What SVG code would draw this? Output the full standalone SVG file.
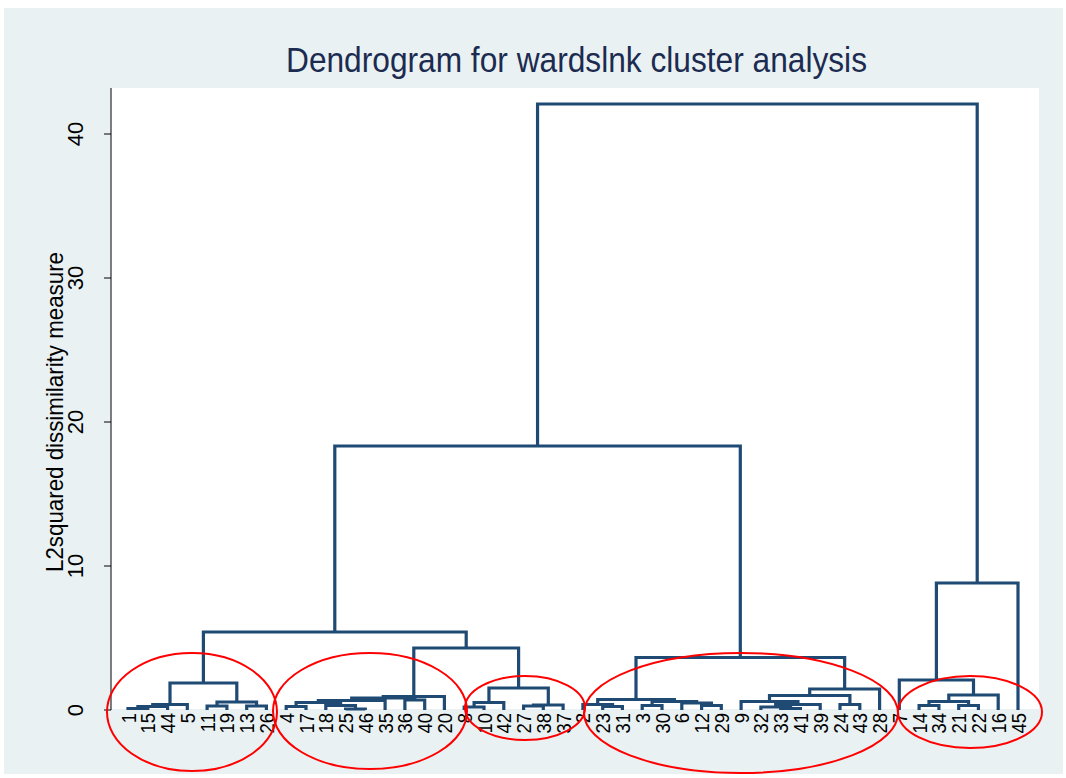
<svg xmlns="http://www.w3.org/2000/svg" width="1066" height="778" viewBox="0 0 1066 778">
<style>
.link{fill:none;stroke:#1f4a73;stroke-width:3.2;stroke-linejoin:miter}
.lbl{font-family:"Liberation Sans",Arial,sans-serif;font-size:21px;fill:#000;text-anchor:end}
.tick{font-family:"Liberation Sans",Arial,sans-serif;font-size:22px;fill:#000;text-anchor:middle}
.ring{fill:none;stroke:#ff0000;stroke-width:2}
</style>
<rect x="0" y="0" width="1066" height="778" fill="#ffffff"/>
<rect x="4" y="8" width="1059" height="766" fill="#e9f1f3"/>
<rect x="111" y="88" width="928" height="621" fill="#ffffff"/>
<text x="286" y="72" textLength="581" lengthAdjust="spacingAndGlyphs" style="font-family:'Liberation Sans',Arial,sans-serif;font-size:35px;fill:#1c2b50">Dendrogram for wardslnk cluster analysis</text>
<g id="y-axis">
<line x1="111" y1="88" x2="111" y2="710" stroke="#000" stroke-width="1"/>
<g stroke="#000" stroke-width="1">
<line x1="104" y1="710" x2="111" y2="710"/>
<line x1="104" y1="566" x2="111" y2="566"/>
<line x1="104" y1="422" x2="111" y2="422"/>
<line x1="104" y1="278" x2="111" y2="278"/>
<line x1="104" y1="134" x2="111" y2="134"/>
</g>
<text class="tick" transform="translate(83,710) rotate(-90)">0</text>
<text class="tick" transform="translate(83,566) rotate(-90)">10</text>
<text class="tick" transform="translate(83,422) rotate(-90)">20</text>
<text class="tick" transform="translate(83,278) rotate(-90)">30</text>
<text class="tick" transform="translate(83,134) rotate(-90)">40</text>
<text transform="translate(63,412) rotate(-90)" text-anchor="middle" textLength="320" lengthAdjust="spacingAndGlyphs" style="font-family:'Liberation Sans',Arial,sans-serif;font-size:24px;fill:#000">L2squared dissimilarity measure</text>
</g>
<g id="connectors">
<path class="link" d="M128,710 V708.5 H147.8 V710"/>
<path class="link" d="M137.9,708.5 V706.5 H167.6 V710"/>
<path class="link" d="M152.75,706.5 V704.5 H187.3 V710"/>
<path class="link" d="M207.1,710 V706 H226.9 V710"/>
<path class="link" d="M246.7,710 V706 H266.4 V710"/>
<path class="link" d="M217,706 V702 H256.55 V706"/>
<path class="link" d="M170,704.5 V683 H236.8 V702"/>
<path class="link" d="M345.6,710 V709 H365.3 V710"/>
<path class="link" d="M325.8,710 V705.5 H355.45 V709"/>
<path class="link" d="M286.2,710 V706.5 H306 V710"/>
<path class="link" d="M296.1,706.5 V702.5 H340.6 V705.5"/>
<path class="link" d="M318.35,702.5 V700.5 H385.1 V710"/>
<path class="link" d="M404.9,710 V700 H424.7 V710"/>
<path class="link" d="M351.7,700.5 V698 H414.8 V700"/>
<path class="link" d="M383.25,698 V696.5 H444.4 V710"/>
<path class="link" d="M464.2,710 V707 H484 V710"/>
<path class="link" d="M474.1,707 V702.5 H503.8 V710"/>
<path class="link" d="M523.6,710 V706 H543.3 V710"/>
<path class="link" d="M533.45,706 V705 H563.1 V710"/>
<path class="link" d="M488.95,702.5 V688 H548.3 V705"/>
<path class="link" d="M413.8,696.5 V648 H518.6 V688"/>
<path class="link" d="M203.4,683 V632 H466.2 V648"/>
<path class="link" d="M602.7,710 V706.5 H622.4 V710"/>
<path class="link" d="M582.9,710 V704.5 H612.55 V706.5"/>
<path class="link" d="M642.2,710 V705.5 H662 V710"/>
<path class="link" d="M701.6,710 V705.5 H721.3 V710"/>
<path class="link" d="M681.8,710 V703 H711.45 V705.5"/>
<path class="link" d="M652.1,705.5 V701.5 H696.6 V703"/>
<path class="link" d="M597.7,704.5 V699.5 H674.35 V701.5"/>
<path class="link" d="M780.7,710 V708.5 H800.4 V710"/>
<path class="link" d="M760.9,710 V707 H790.55 V708.5"/>
<path class="link" d="M775.7,707 V704.5 H820.2 V710"/>
<path class="link" d="M741.1,710 V701.5 H797.95 V704.5"/>
<path class="link" d="M840,710 V704.5 H859.8 V710"/>
<path class="link" d="M769.5,701.5 V695.5 H849.9 V704.5"/>
<path class="link" d="M809.7,695.5 V689 H879.6 V710"/>
<path class="link" d="M636,699.5 V657.5 H844.65 V689"/>
<path class="link" d="M334.8,632 V446 H740.3 V657.5"/>
<path class="link" d="M919.1,710 V705.5 H938.9 V710"/>
<path class="link" d="M958.7,710 V705.5 H978.4 V710"/>
<path class="link" d="M929,705.5 V701.5 H968.55 V705.5"/>
<path class="link" d="M948.8,701.5 V695 H998.2 V710"/>
<path class="link" d="M899.3,710 V680 H973.5 V695"/>
<path class="link" d="M936.4,680 V583 H1018 V710"/>
<path class="link" d="M537.55,446 V104 H977.2 V583"/>
</g>
<g id="leaf-1"><text class="lbl" transform="translate(135.5,713) rotate(-90) scale(0.88,1)">1</text></g>
<g id="leaf-15"><text class="lbl" transform="translate(155.3,713) rotate(-90) scale(0.88,1)">15</text></g>
<g id="leaf-44"><text class="lbl" transform="translate(175.1,713) rotate(-90) scale(0.88,1)">44</text></g>
<g id="leaf-5"><text class="lbl" transform="translate(194.8,713) rotate(-90) scale(0.88,1)">5</text></g>
<g id="leaf-11"><text class="lbl" transform="translate(214.6,713) rotate(-90) scale(0.88,1)">11</text></g>
<g id="leaf-19"><text class="lbl" transform="translate(234.4,713) rotate(-90) scale(0.88,1)">19</text></g>
<g id="leaf-13"><text class="lbl" transform="translate(254.2,713) rotate(-90) scale(0.88,1)">13</text></g>
<g id="leaf-26"><text class="lbl" transform="translate(273.9,713) rotate(-90) scale(0.88,1)">26</text></g>
<g id="leaf-4"><text class="lbl" transform="translate(293.7,713) rotate(-90) scale(0.88,1)">4</text></g>
<g id="leaf-17"><text class="lbl" transform="translate(313.5,713) rotate(-90) scale(0.88,1)">17</text></g>
<g id="leaf-18"><text class="lbl" transform="translate(333.3,713) rotate(-90) scale(0.88,1)">18</text></g>
<g id="leaf-25"><text class="lbl" transform="translate(353.1,713) rotate(-90) scale(0.88,1)">25</text></g>
<g id="leaf-46"><text class="lbl" transform="translate(372.8,713) rotate(-90) scale(0.88,1)">46</text></g>
<g id="leaf-35"><text class="lbl" transform="translate(392.6,713) rotate(-90) scale(0.88,1)">35</text></g>
<g id="leaf-36"><text class="lbl" transform="translate(412.4,713) rotate(-90) scale(0.88,1)">36</text></g>
<g id="leaf-40"><text class="lbl" transform="translate(432.2,713) rotate(-90) scale(0.88,1)">40</text></g>
<g id="leaf-20"><text class="lbl" transform="translate(451.9,713) rotate(-90) scale(0.88,1)">20</text></g>
<g id="leaf-8"><text class="lbl" transform="translate(471.7,713) rotate(-90) scale(0.88,1)">8</text></g>
<g id="leaf-10"><text class="lbl" transform="translate(491.5,713) rotate(-90) scale(0.88,1)">10</text></g>
<g id="leaf-42"><text class="lbl" transform="translate(511.3,713) rotate(-90) scale(0.88,1)">42</text></g>
<g id="leaf-27"><text class="lbl" transform="translate(531.1,713) rotate(-90) scale(0.88,1)">27</text></g>
<g id="leaf-38"><text class="lbl" transform="translate(550.8,713) rotate(-90) scale(0.88,1)">38</text></g>
<g id="leaf-37"><text class="lbl" transform="translate(570.6,713) rotate(-90) scale(0.88,1)">37</text></g>
<g id="leaf-2"><text class="lbl" transform="translate(590.4,713) rotate(-90) scale(0.88,1)">2</text></g>
<g id="leaf-23"><text class="lbl" transform="translate(610.2,713) rotate(-90) scale(0.88,1)">23</text></g>
<g id="leaf-31"><text class="lbl" transform="translate(629.9,713) rotate(-90) scale(0.88,1)">31</text></g>
<g id="leaf-3"><text class="lbl" transform="translate(649.7,713) rotate(-90) scale(0.88,1)">3</text></g>
<g id="leaf-30"><text class="lbl" transform="translate(669.5,713) rotate(-90) scale(0.88,1)">30</text></g>
<g id="leaf-6"><text class="lbl" transform="translate(689.3,713) rotate(-90) scale(0.88,1)">6</text></g>
<g id="leaf-12"><text class="lbl" transform="translate(709.1,713) rotate(-90) scale(0.88,1)">12</text></g>
<g id="leaf-29"><text class="lbl" transform="translate(728.8,713) rotate(-90) scale(0.88,1)">29</text></g>
<g id="leaf-9"><text class="lbl" transform="translate(748.6,713) rotate(-90) scale(0.88,1)">9</text></g>
<g id="leaf-32"><text class="lbl" transform="translate(768.4,713) rotate(-90) scale(0.88,1)">32</text></g>
<g id="leaf-33"><text class="lbl" transform="translate(788.2,713) rotate(-90) scale(0.88,1)">33</text></g>
<g id="leaf-41"><text class="lbl" transform="translate(807.9,713) rotate(-90) scale(0.88,1)">41</text></g>
<g id="leaf-39"><text class="lbl" transform="translate(827.7,713) rotate(-90) scale(0.88,1)">39</text></g>
<g id="leaf-24"><text class="lbl" transform="translate(847.5,713) rotate(-90) scale(0.88,1)">24</text></g>
<g id="leaf-43"><text class="lbl" transform="translate(867.3,713) rotate(-90) scale(0.88,1)">43</text></g>
<g id="leaf-28"><text class="lbl" transform="translate(887.1,713) rotate(-90) scale(0.88,1)">28</text></g>
<g id="leaf-7"><text class="lbl" transform="translate(906.8,713) rotate(-90) scale(0.88,1)">7</text></g>
<g id="leaf-14"><text class="lbl" transform="translate(926.6,713) rotate(-90) scale(0.88,1)">14</text></g>
<g id="leaf-34"><text class="lbl" transform="translate(946.4,713) rotate(-90) scale(0.88,1)">34</text></g>
<g id="leaf-21"><text class="lbl" transform="translate(966.2,713) rotate(-90) scale(0.88,1)">21</text></g>
<g id="leaf-22"><text class="lbl" transform="translate(985.9,713) rotate(-90) scale(0.88,1)">22</text></g>
<g id="leaf-16"><text class="lbl" transform="translate(1005.7,713) rotate(-90) scale(0.88,1)">16</text></g>
<g id="leaf-45"><text class="lbl" transform="translate(1025.5,713) rotate(-90) scale(0.88,1)">45</text></g>
<g id="highlights">
<ellipse class="ring" cx="192" cy="712" rx="85" ry="59"/>
<ellipse class="ring" cx="370" cy="711" rx="97" ry="58"/>
<ellipse class="ring" cx="525" cy="708" rx="60" ry="32"/>
<ellipse class="ring" cx="741" cy="713" rx="157" ry="60"/>
<ellipse class="ring" cx="970" cy="712" rx="72" ry="36"/>
</g>
</svg>
